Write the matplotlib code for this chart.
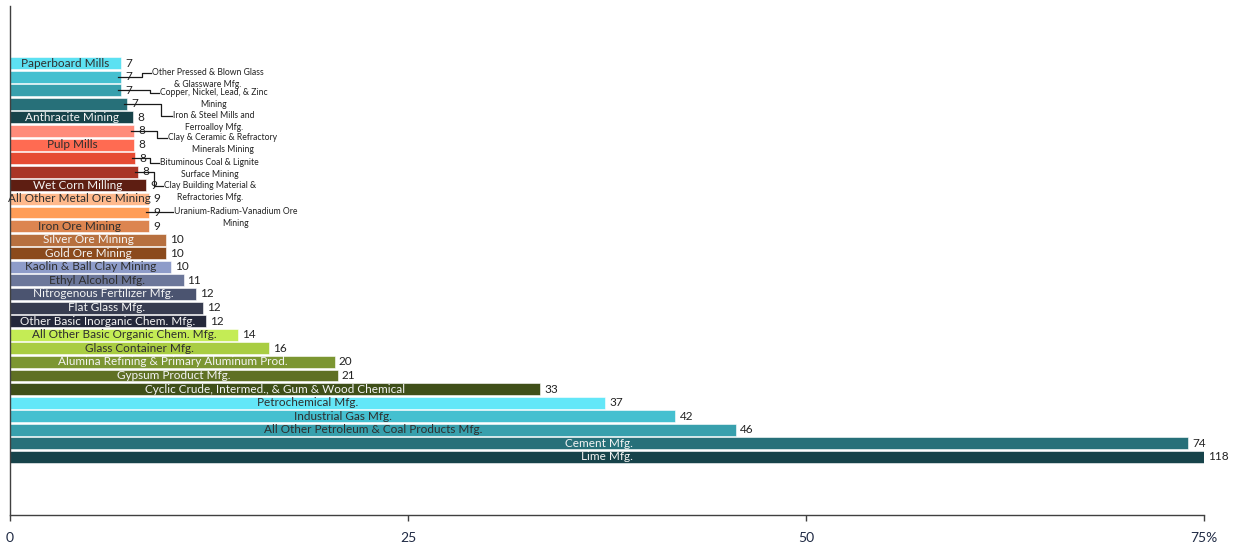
import matplotlib
matplotlib.use("Agg")
import matplotlib.pyplot as plt

# ---------------- data ----------------
industries = [
    "Paperboard Mills",
    "Other Pressed & Blown Glass\n& Glassware Mfg.",
    "Copper, Nickel, Lead, & Zinc\nMining",
    "Iron & Steel Mills and\nFerroalloy Mfg.",
    "Anthracite Mining",
    "Clay & Ceramic & Refractory\nMinerals Mining",
    "Pulp Mills",
    "Bituminous Coal & Lignite\nSurface Mining",
    "Clay Building Material &\nRefractories Mfg.",
    "Wet Corn Milling",
    "All Other Metal Ore Mining",
    "Uranium-Radium-Vanadium Ore\nMining",
    "Iron Ore Mining",
    "Silver Ore Mining",
    "Gold Ore Mining",
    "Kaolin & Ball Clay Mining",
    "Ethyl Alcohol Mfg.",
    "Nitrogenous Fertilizer Mfg.",
    "Flat Glass Mfg.",
    "Other Basic Inorganic Chem. Mfg.",
    "All Other Basic Organic Chem. Mfg.",
    "Glass Container Mfg.",
    "Alumina Refining & Primary Aluminum Prod.",
    "Gypsum Product Mfg.",
    "Cyclic Crude, Intermed., & Gum & Wood Chemical",
    "Petrochemical Mfg.",
    "Industrial Gas Mfg.",
    "All Other Petroleum & Coal Products Mfg.",
    "Cement Mfg.",
    "Lime Mfg.",
]

values = [6.97, 6.97, 6.97, 7.35, 7.73, 7.79, 7.8, 7.85, 8.06, 8.55,
          8.75, 8.75, 8.75, 9.8, 9.8, 10.1, 10.9, 11.7, 12.1, 12.3,
          14.3, 16.3, 20.4, 20.6, 33.3, 37.4, 41.8, 45.6, 74.0, 118]

bar_colors = [
    "#5CE1F2", "#45C0D0", "#38A0AD", "#277079", "#17434A",
    "#FF8B7A", "#FF6B52", "#E64B33", "#A93526", "#5E1E12",
    "#FFB98C", "#FF9D57", "#DC8550", "#B7703F", "#8B4A1C",
    "#8E9CC9", "#6C779A", "#4B5470", "#373C50", "#24283A",
    "#C4EC55", "#A9CD42", "#7C9632", "#5F7024", "#3F4F19",
    "#63E7F8", "#45C0D0", "#38A0AD", "#277079", "#17434A",
]

DARK = "#2E2E2E"
LIGHT = "#F4F4F4"
text_colors = [
    DARK, DARK, DARK, LIGHT, LIGHT,
    DARK, DARK, LIGHT, LIGHT, LIGHT,
    DARK, DARK, DARK, LIGHT, LIGHT,
    DARK, DARK, LIGHT, LIGHT, LIGHT,
    DARK, DARK, LIGHT, LIGHT, LIGHT,
    DARK, DARK, DARK, LIGHT, LIGHT,
]

x_ticks = [0, 25, 50, 75]
x_tick_labels = ["0", "25", "50", "75%"]

# rows whose label is placed outside with a leader line:
# row -> (elbow dx px, text-left dx px, text dy px) relative to bar end / row centre
callouts = {
    1: (21, 30, -3.6),
    2: (29, 38, 2.8),
    3: (34, 45, 12.2),
    5: (23, 33, 7.1),
    7: (15, 24, 4.9),
    8: (16, 25, 14.3),
    11: (19, 24, 0.0),
}

# ---------------- figure ----------------
FONT = ["Liberation Sans Narrow", "Lato", "DejaVu Sans"]
plt.rcParams["font.family"] = FONT

W, H, DPI = 1233, 546, 100
fig = plt.figure(figsize=(W / DPI, H / DPI), dpi=DPI)
ax = fig.add_axes([10 / W, (H - 515) / H, (1204 - 10) / W, (515 - 6) / H])

n = len(values)
ypos = list(range(n))
ax.barh(ypos, values, height=0.88, color=bar_colors, edgecolor="white",
        linewidth=0.4)

xmax = 75
ax.set_xlim(0, xmax)
ax.set_ylim(33.27, -4.2)

ax.set_xticks(x_ticks)
ax.set_xticklabels(x_tick_labels, fontsize=10, color="#1F2A44")
ax.set_yticks([])
ax.tick_params(axis="x", direction="out", length=4, width=1, color="#404040",
               pad=8)
for s in ("top", "right"):
    ax.spines[s].set_visible(False)
for s in ("left", "bottom"):
    ax.spines[s].set_color("#404040")
    ax.spines[s].set_linewidth(1.0)

fig.canvas.draw()
to_disp = ax.transData.transform
to_data = ax.transData.inverted().transform


def px_off(x, y, dx, dy):
    """offset a data point by pixels (dy positive = downward on screen)."""
    X, Y = to_disp((x, y))
    return to_data((X + dx, Y - dy))


for i, (name, v) in enumerate(zip(industries, values)):
    vis = min(v, xmax)
    # value label
    vx, vy = px_off(vis, i, 4, 0)
    ax.text(vx, vy, f"{v:.0f}", ha="left", va="center", fontsize=8.5,
            color="#222222", clip_on=False)
    if i in callouts:
        edx, tdx, tdy = callouts[i]
        p0 = px_off(vis, i, -3, 0)
        p1 = px_off(vis, i, edx, 0)
        p2 = px_off(vis, i, edx, tdy)
        p3 = px_off(vis, i, tdx, tdy)
        ax.plot([p0[0], p1[0], p2[0], p3[0]], [p0[1], p1[1], p2[1], p3[1]],
                color="#1A1A1A", lw=0.9, clip_on=False, zorder=4)
        tx, ty = px_off(vis, i, tdx + 1, tdy - 5.5)
        ax.text(tx, ty, name, ha="left", va="top", multialignment="center",
                fontsize=6.2, color="#222222", linespacing=1.45, zorder=5)
    else:
        ax.text(vis / 2, i, name, ha="center", va="center", fontsize=8.5,
                color=text_colors[i], zorder=5)

fig.savefig("out.png", dpi=DPI)
